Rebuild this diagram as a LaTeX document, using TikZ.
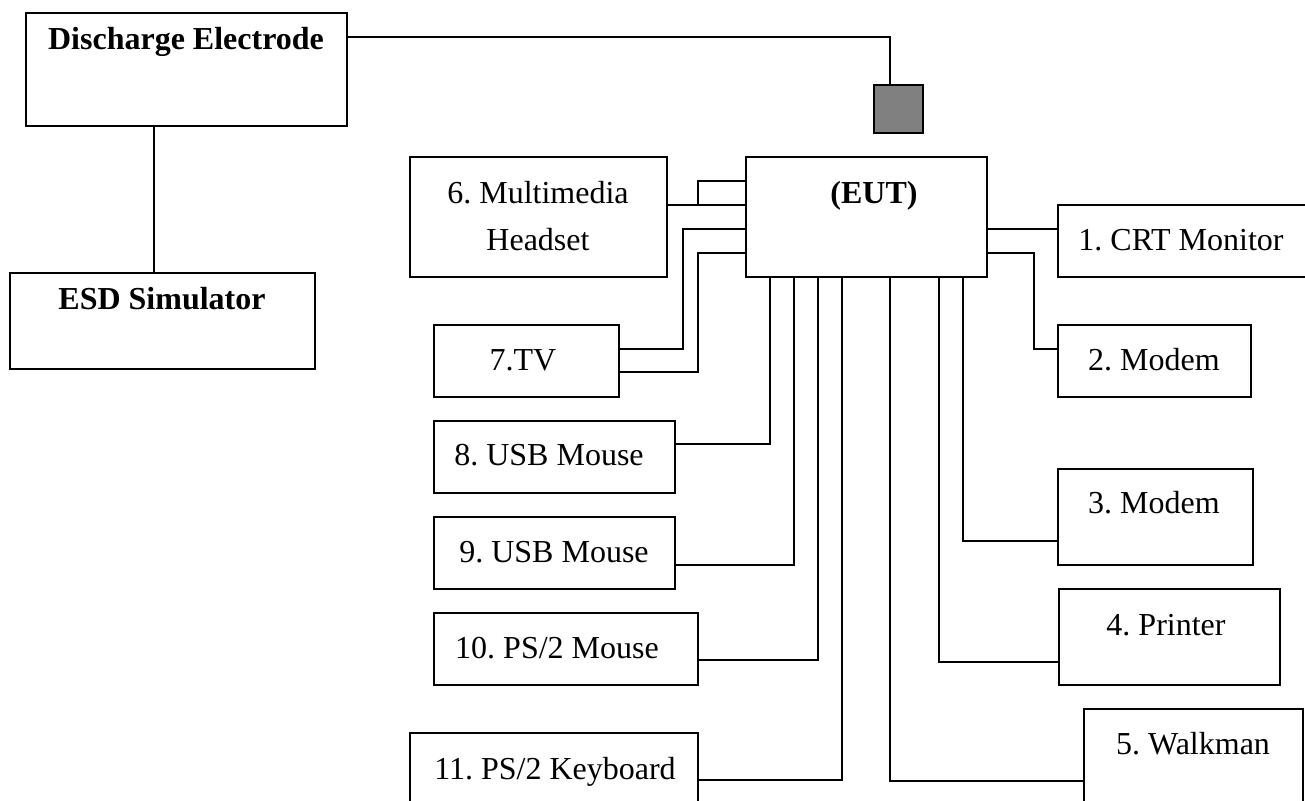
\documentclass[tikz,border=0pt]{standalone}
\usepackage{fontspec}
\setmainfont{Liberation Serif}
\usepackage{tikz}
\usetikzlibrary{positioning}
\frenchspacing

\tikzset{
  box/.style={draw, line width=2pt, inner sep=0pt, outer sep=0pt, anchor=north west},
  lbl/.style={anchor=base, inner sep=0pt, font=\fontsize{32}{38}\selectfont},
  blbl/.style={lbl, font=\fontsize{32}{38}\selectfont\bfseries},
  wire/.style={line width=2pt},
}

\begin{document}
\begin{tikzpicture}[x=1pt, y=-1pt]
  \useasboundingbox (0,0) rectangle (1305,800);

  % test set-up
  \node[box, minimum width=321pt, minimum height=113pt] (disch) at (26,13) {};
  \node[box, minimum width=305pt, minimum height=96pt] (esd) at (10,273) {};
  \node[box, fill=gray, minimum width=49pt, minimum height=48pt] (gun) at (874,85) {};
  \node[box, minimum width=241pt, minimum height=120pt] (eut) at (746,157) {};

  % left side
  \node[box, minimum width=257pt, minimum height=120pt] (head) at (410,157) {};
  \node[box, minimum width=185pt, minimum height=72pt] (tv) at (434,325) {};
  \node[box, minimum width=241pt, minimum height=72pt] (usba) at (434,421) {};
  \node[box, below=24pt of usba, minimum width=241pt, minimum height=72pt] (usbb) {};
  \node[box, minimum width=264pt, minimum height=72pt] (psm) at (434,613) {};
  \node[box, minimum width=288pt, minimum height=100pt] (kbd) at (410,733) {};

  % right side
  \node[box, minimum width=270pt, minimum height=72pt] (crt) at (1058,205) {};
  \node[box, minimum width=193pt, minimum height=72pt] (moda) at (1058,325) {};
  \node[box, minimum width=195pt, minimum height=96pt] (modb) at (1058,469) {};
  \node[box, minimum width=221pt, minimum height=96pt] (prn) at (1059,589) {};
  \node[box, minimum width=219pt, minimum height=120pt] (walk) at (1084,709) {};

  % texts
  \node[blbl] (disch-t) at (186,49) {Discharge Electrode};
  \node[blbl] (esd-t) at (162,309) {ESD Simulator};
  \node[blbl] (eut-t) at (874,203) {(EUT)};
  \node[lbl] (head-t) at (538,203) {6. Multimedia};
  \node[lbl] (head-u) at (538,250) {Headset};
  \node[lbl] (tv-t) at (523,370) {7.TV};
  \node[lbl] (usba-t) at (549,465) {8. USB Mouse};
  \node[lbl] (usbb-t) at (554,562) {9. USB Mouse};
  \node[lbl] (psm-t) at (557,658) {10. PS/2 Mouse};
  \node[lbl] (kbd-t) at (555,779) {11. PS/2 Keyboard};
  \node[lbl] (crt-t) at (1181,250) {1. CRT Monitor};
  \node[lbl] (moda-t) at (1154,370) {2. Modem};
  \node[lbl] (modb-t) at (1154,513) {3. Modem};
  \node[lbl] (prn-t) at (1166,635) {4. Printer};
  \node[lbl] (walk-t) at (1193,754) {5. Walkman};

  \coordinate (hj) at (698,205);

  % wiring
  \draw[wire] (disch.east |- 0,37) -| (gun.north -| 890,0);
  \draw[wire] (disch.south -| 154,0) -- (esd.north -| 154,0);

  \draw[wire] (head.east |- hj) -- (eut.west |- hj);
  \draw[wire] (hj) |- (eut.west |- 0,181);
  \draw[wire] (eut.west |- 0,229) -- (683,229) |- (tv.east |- 0,349);
  \draw[wire] (eut.west |- 0,253) -- (698,253) |- (tv.east |- 0,372);

  \draw[wire] (eut.south -| 770,0) |- (usba.east |- 0,444);
  \draw[wire] (eut.south -| 794,0) |- (usbb.east |- 0,565);
  \draw[wire] (eut.south -| 818,0) |- (psm.east |- 0,660);
  \draw[wire] (eut.south -| 842,0) |- (kbd.east |- 0,780);
  \draw[wire] (eut.south -| 890,0) |- (walk.west |- 0,781);
  \draw[wire] (eut.south -| 939,0) |- (prn.west |- 0,662);
  \draw[wire] (eut.south -| 963,0) |- (modb.west |- 0,541);

  \draw[wire] (eut.east |- 0,229) -- (crt.west |- 0,229);
  \draw[wire] (eut.east |- 0,253) -- (1034,253) |- (moda.west |- 0,349);
\end{tikzpicture}
\end{document}
